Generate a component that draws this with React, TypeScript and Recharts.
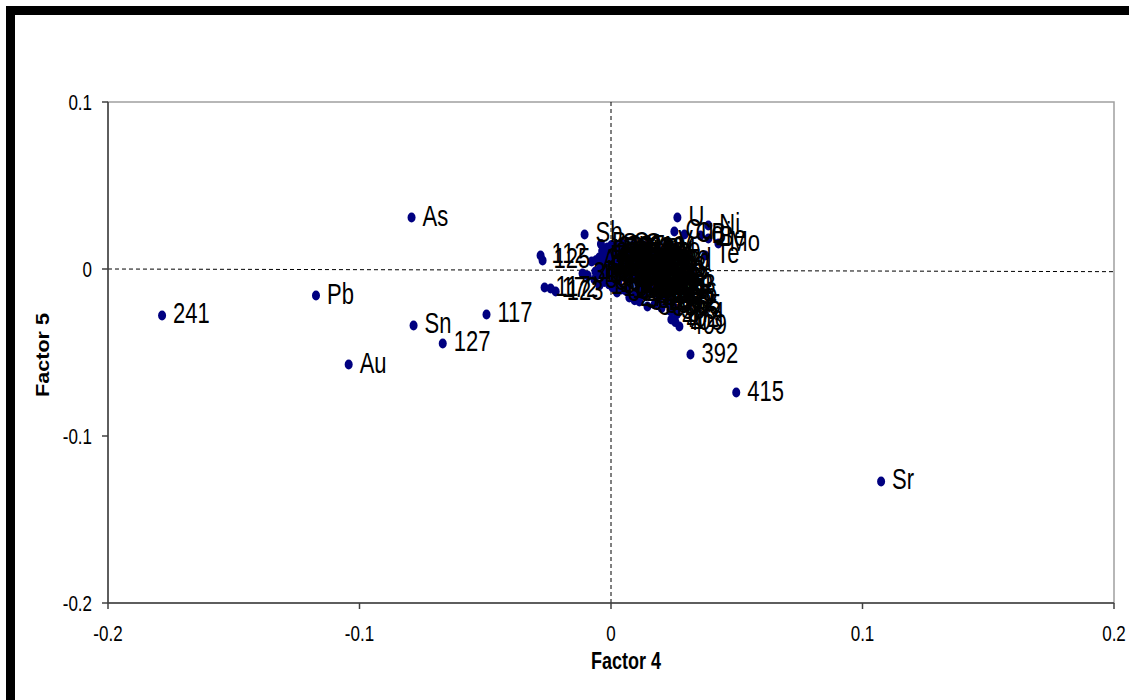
import React from "react";
import {
  ScatterChart,
  Scatter,
  XAxis,
  YAxis,
  ReferenceLine,
  ReferenceArea,
  LabelList,
} from "recharts";

// Factor 4 (x) vs Factor 5 (y) loadings/scores
const xTicks = [-0.2, -0.1, 0, 0.1, 0.2];
const yTicks = [0.1, 0, -0.1, -0.2];

// far-out labelled points: [factor4, factor5, label]
const outliers: [number, number, string][] = [
  [-0.0793, 0.0308, "As"],
  [-0.1173, -0.0159, "Pb"],
  [-0.1785, -0.0278, "241"],
  [-0.0785, -0.0338, "Sn"],
  [-0.1043, -0.0572, "Au"],
  [-0.0669, -0.0446, "127"],
  [-0.0495, -0.0272, "117"],
  [0.0316, -0.0512, "392"],
  [0.0498, -0.074, "415"],
  [0.1074, -0.1272, "Sr"],
];

// points just outside the main cloud
const fringe: [number, number, string][] = [
  [0.0264, 0.0308, "U"],
  [0.0252, 0.0225, "Cu"],
  [0.0292, 0.0207, "Co"],
  [0.0387, 0.026, "Ni"],
  [0.0356, 0.0201, "Bi"],
  [0.0387, 0.0183, "Be"],
  [0.0427, 0.0153, "Mo"],
  [0.0375, 0.0081, "Te"],
  [0.0224, 0.0159, "V"],
  [0.0244, 0.0045, "Cd"],
  [-0.0105, 0.0207, "Sb"],
  [-0.028, 0.0081, "112"],
  [-0.0272, 0.0051, "125"],
  [-0.0264, -0.0111, "117"],
  [-0.024, -0.0117, "172"],
  [-0.022, -0.0135, "123"],
];

// the dense cloud around the origin
const cloud: [number, number, string][] = [
  [-0.004, 0.015, "Ba"],
  [0.0002, 0.0144, "Se"],
  [0.0045, 0.0152, "Ce"],
  [0.009, 0.0146, "Ga"],
  [0.013, 0.014, "La"],
  [-0.0015, 0.0128, "201"],
  [0.0025, 0.0132, "207"],
  [0.0066, 0.0127, "211"],
  [0.0108, 0.0124, "219"],
  [0.015, 0.0121, "224"],
  [-0.0035, 0.0108, "Li"],
  [0.0004, 0.0116, "Rb"],
  [0.0043, 0.0102, "Cs"],
  [0.0081, 0.0111, "Zr"],
  [0.0122, 0.0099, "Hf"],
  [0.016, 0.0106, "Nb"],
  [0.0196, 0.0095, "W"],
  [-0.0025, 0.0087, "230"],
  [0.0014, 0.0091, "233"],
  [0.0052, 0.0084, "239"],
  [0.0089, 0.0092, "244"],
  [0.0128, 0.0083, "248"],
  [0.0166, 0.0089, "250"],
  [-0.0047, 0.0069, "Fe"],
  [-0.0008, 0.0074, "Mn"],
  [0.0031, 0.0065, "Ti"],
  [0.0068, 0.0078, "Cr"],
  [0.0105, 0.0061, "Zn"],
  [0.0143, 0.0072, "Ag"],
  [0.0181, 0.0059, "Tl"],
  [0.0214, 0.0066, "In"],
  [-0.006, 0.0052, "256"],
  [-0.0021, 0.0049, "259"],
  [0.0018, 0.0055, "262"],
  [0.0055, 0.0046, "265"],
  [0.0092, 0.0051, "268"],
  [0.0128, 0.0044, "271"],
  [0.0166, 0.0048, "277"],
  [0.0201, 0.0042, "280"],
  [-0.0077, 0.0045, "Al"],
  [-0.0041, 0.0026, "Ca"],
  [-0.0003, 0.0034, "Mg"],
  [0.0036, 0.0022, "Na"],
  [0.0072, 0.0038, "K"],
  [0.011, 0.0019, "P"],
  [0.0147, 0.0031, "S"],
  [0.0186, 0.0017, "Th"],
  [0.0221, 0.0028, "Y"],
  [-0.0042, 0.0009, "283"],
  [-0.0002, 0.0013, "285"],
  [0.0039, 0.0006, "291"],
  [0.0076, 0.0011, "293"],
  [0.0113, 0.0004, "297"],
  [0.0151, 0.0012, "300"],
  [0.0189, 0.0005, "303"],
  [-0.0113, -0.0027, "31"],
  [-0.0062, -0.0015, "Hg"],
  [-0.002, -0.0008, "B"],
  [0.0019, -0.0019, "Ge"],
  [0.0057, -0.0004, "Ta"],
  [0.0094, -0.0016, "Pd"],
  [0.0131, -0.0007, "Pt"],
  [0.017, -0.0021, "Re"],
  [0.0207, -0.001, "13"],
  [0.0232, -0.0018, "22"],
  [-0.0048, -0.0033, "309"],
  [-0.0007, -0.0029, "312"],
  [0.003, -0.0036, "315"],
  [0.0068, -0.0027, "320"],
  [0.0106, -0.0034, "323"],
  [0.0145, -0.0028, "329"],
  [0.0183, -0.0037, "332"],
  [-0.0093, -0.0039, "45"],
  [-0.0066, -0.0063, "58"],
  [-0.0028, -0.0052, "64"],
  [0.0011, -0.006, "71"],
  [0.0049, -0.0047, "86"],
  [0.0087, -0.0058, "93"],
  [0.0126, -0.0049, "108"],
  [0.0164, -0.0062, "135"],
  [0.0198, -0.0051, "142"],
  [0.0216, -0.0068, "156"],
  [-0.0027, -0.0078, "338"],
  [0.0029, -0.0082, "343"],
  [0.0068, -0.0074, "345"],
  [0.0107, -0.0081, "350"],
  [0.0146, -0.0076, "356"],
  [0.0184, -0.0084, "360"],
  [0.0211, -0.0089, "364"],
  [-0.0046, -0.0099, "163"],
  [-0.0008, -0.0092, "178"],
  [0.0006, -0.0111, "184"],
  [0.0042, -0.0123, "197"],
  [0.0071, -0.0098, "205"],
  [0.0109, -0.0106, "216"],
  [0.0148, -0.0094, "228"],
  [0.0187, -0.0109, "236"],
  [0.0226, -0.0101, "253"],
  [0.0024, -0.0141, "367"],
  [0.006, -0.0132, "370"],
  [0.0118, -0.0127, "373"],
  [0.0157, -0.0122, "377"],
  [0.0194, -0.0131, "381"],
  [0.0073, -0.0171, "274"],
  [0.0098, -0.0146, "288"],
  [0.0135, -0.0158, "295"],
  [0.0172, -0.0144, "306"],
  [0.0209, -0.016, "318"],
  [0.0233, -0.0152, "326"],
  [0.0094, -0.0187, "384"],
  [0.0188, -0.0189, "387"],
  [0.0221, -0.0183, "389"],
  [0.0113, -0.0195, "341"],
  [0.0145, -0.0225, "347"],
  [0.0173, -0.0213, "353"],
  [0.0201, -0.0233, "359"],
  [0.0226, -0.0206, "362"],
  [0.0248, -0.0224, "365"],
  [0.0236, -0.0251, "395"],
  [0.0262, -0.0271, "374"],
  [0.024, -0.0302, "402"],
  [0.0256, -0.0318, "403"],
  [0.0272, -0.0344, "409"],
];

const points = [...outliers, ...fringe, ...cloud].map(([x, y, name]) => ({
  x,
  y,
  name,
}));

const FONT = "'Liberation Sans', Arial, sans-serif";

function Dot(props: any) {
  return <ellipse cx={props.cx} cy={props.cy} rx={4} ry={5} fill="#000080" />;
}

function PointLabel(props: any) {
  const vb = props.viewBox ?? props;
  const cx = vb.x + (vb.width ?? 0) / 2;
  const cy = vb.y + (vb.height ?? 0) / 2;
  return (
    <g transform={`translate(${cx + 11},${cy + 8}) scale(1,1.35)`}>
      <text fontSize={22} fontFamily={FONT} fill="#000">
        {props.value}
      </text>
    </g>
  );
}

function XTick({ x, y, payload }: any) {
  return (
    <g transform={`translate(${x},${y + 32}) scale(1,1.3)`}>
      <text textAnchor="middle" fontSize={17} fontFamily={FONT} fill="#000">
        {String(payload.value)}
      </text>
    </g>
  );
}

function YTick({ x, y, payload }: any) {
  return (
    <g transform={`translate(${x},${y + 8}) scale(1,1.3)`}>
      <text textAnchor="end" fontSize={17} fontFamily={FONT} fill="#000">
        {String(payload.value)}
      </text>
    </g>
  );
}

export default function App() {
  return (
    <div
      style={{
        position: "absolute",
        left: 0,
        top: 0,
        width: 1129,
        height: 700,
        background: "#fff",
        overflow: "hidden",
      }}
    >
      <div style={{ position: "absolute", left: 6, top: 6, width: 1123, height: 9, background: "#000" }} />
      <div style={{ position: "absolute", left: 6, top: 6, width: 9, height: 694, background: "#000" }} />
      <ScatterChart
        width={1129}
        height={700}
        margin={{ top: 102, right: 15, bottom: 37, left: 48 }}
        style={{ position: "absolute", left: 0, top: 0 }}
      >
        <ReferenceArea
          x1={-0.2}
          x2={0.2}
          y1={-0.2}
          y2={0.1}
          fill="none"
          stroke="#a0a0a0"
          strokeWidth={1.5}
        />
        <XAxis
          type="number"
          dataKey="x"
          domain={[-0.2, 0.2]}
          ticks={xTicks}
          tickSize={6}
          tickMargin={0}
          height={60}
          stroke="#404040"
          strokeWidth={1.5}
          tick={<XTick />}
          label={{
            content: () => (
              <g transform="translate(626,669) scale(1,1.35)">
                <text textAnchor="middle" fontSize={18} fontWeight="bold" fontFamily={FONT} fill="#000">
                  Factor 4
                </text>
              </g>
            ),
          }}
        />
        <YAxis
          type="number"
          dataKey="y"
          domain={[-0.2, 0.1]}
          ticks={yTicks}
          tickSize={6}
          tickMargin={10}
          width={60}
          stroke="#404040"
          strokeWidth={1.5}
          tick={<YTick />}
          label={{
            content: () => (
              <g transform="translate(49,355) scale(1,1.2) rotate(-90)">
                <text textAnchor="middle" fontSize={18} fontWeight="bold" fontFamily={FONT} fill="#000">
                  Factor 5
                </text>
              </g>
            ),
          }}
        />
        <ReferenceLine
          segment={[
            { x: -0.2, y: 0 },
            { x: 0.2, y: -0.0016 },
          ]}
          stroke="#000"
          strokeDasharray="4 3"
        />
        <ReferenceLine x={0} stroke="#000" strokeDasharray="4 3" />
        <Scatter data={points} shape={<Dot />} isAnimationActive={false}>
          <LabelList dataKey="name" content={<PointLabel />} />
        </Scatter>
      </ScatterChart>
    </div>
  );
}
